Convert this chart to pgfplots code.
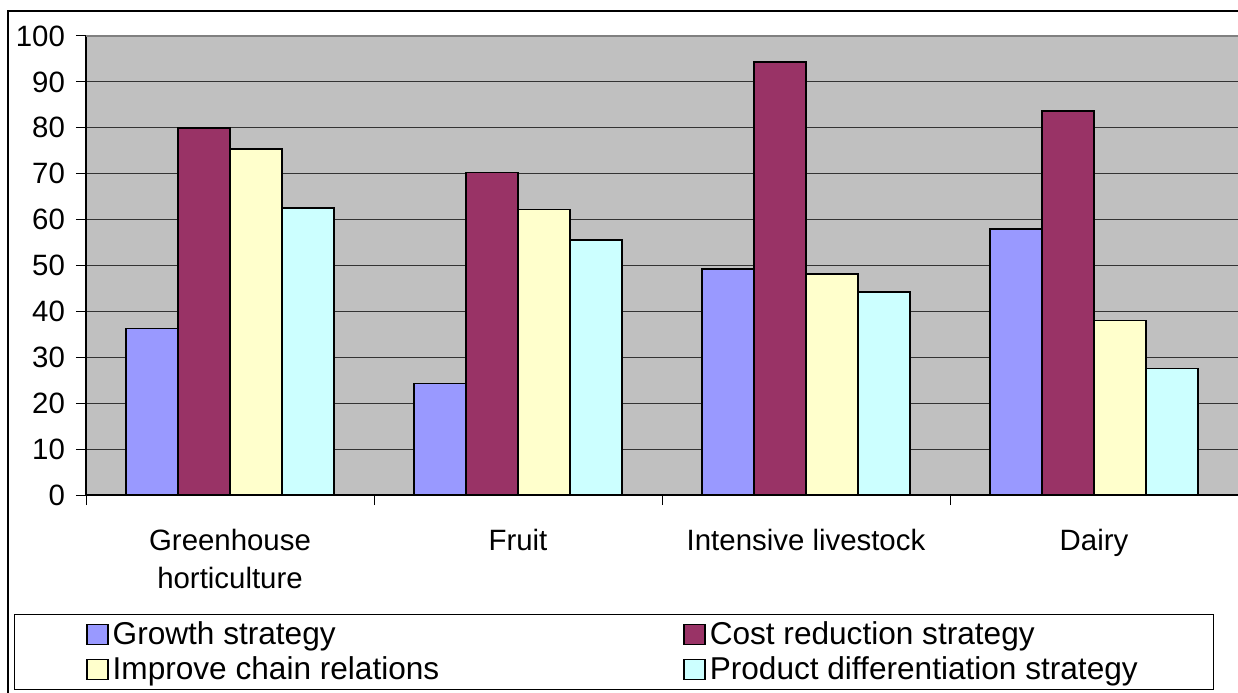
\documentclass[border=0pt]{standalone}
\usepackage{pgfplots}
\pgfplotsset{compat=1.18}
\usepackage{fontspec}
\setmainfont{Liberation Sans}

\definecolor{growth}{HTML}{9999FF}
\definecolor{cost}{HTML}{993366}
\definecolor{chain}{HTML}{FFFFCC}
\definecolor{product}{HTML}{CCFFFF}
\definecolor{plotbg}{HTML}{C0C0C0}

\newcommand\tickfont{\fontsize{14.7}{19}\selectfont}
\newcommand\legfont{\fontsize{15.8}{17.5}\selectfont}

\pgfplotsset{
  /pgfplots/ybar legend/.style={
    /pgfplots/legend image code/.code={%
      \draw[##1, line width=0.7pt] (0pt,-5pt) rectangle (10.5pt,5pt);}},
}

\begin{document}
\begin{tikzpicture}[x=1pt,y=1pt]
\useasboundingbox (0,0) rectangle (619,346);
\clip (0,0) rectangle (619,346);
\draw[black, line width=0.6pt] (4,-10) rectangle (640,340.5);
\begin{axis}[
  at={(43pt,98.5pt)}, anchor=south west,
  scale only axis, width=576pt, height=229.5pt,
  xmin=-0.5, xmax=3.5, ymin=0, ymax=100,
  ybar=0pt, bar width=26pt,
  axis background/.style={fill=plotbg},
  axis x line*=bottom, axis y line*=left,
  axis line style={black, line width=0.6pt},
  ytick={0,10,...,100},
  ymajorgrids, major grid style={black!80, line width=0.5pt},
  tick align=outside, major tick length=5pt,
  tick style={black, line width=0.5pt},
  /pgf/number format/assume math mode=true,
  tick label style={font=\tickfont},
  yticklabel style={xshift=-2pt},
  xtick={-0.5,0.5,1.5,2.5}, xticklabels={},
  extra x ticks={0,1,2,3},
  extra x tick labels={{Greenhouse\\horticulture},{Fruit},{Intensive livestock},{Dairy}},
  extra x tick style={grid=none, major tick length=0pt,
    xticklabel style={align=center, font=\tickfont, yshift=-13.5pt}},
  legend columns=2,
  legend cell align=left,
  legend style={at={(-0.0627,-0.2593)}, anchor=north west,
    draw=black, line width=0.5pt, fill=white, font=\legfont,
    inner xsep=36pt, inner ysep=1.5pt, row sep=0.5pt,
    /tikz/every even column/.append style={column sep=120pt}},
  extra description/.code={\draw[gray, line width=0.6pt] (rel axis cs:0,1) -- (rel axis cs:1,1);},
]
\addplot[fill=growth, draw=black, line width=0.8pt] coordinates {(0,36.3) (1,24.3) (2,49.2) (3,58.0)};
\addplot[fill=cost, draw=black, line width=0.8pt] coordinates {(0,80.0) (1,70.3) (2,94.3) (3,83.7)};
\addplot[fill=chain, draw=black, line width=0.8pt] coordinates {(0,75.4) (1,62.2) (2,48.2) (3,38.0)};
\addplot[fill=product, draw=black, line width=0.8pt] coordinates {(0,62.5) (1,55.6) (2,44.2) (3,27.6)};
\legend{Growth strategy, Cost reduction strategy, Improve chain relations, Product differentiation strategy}
\end{axis}
\end{tikzpicture}
\end{document}
